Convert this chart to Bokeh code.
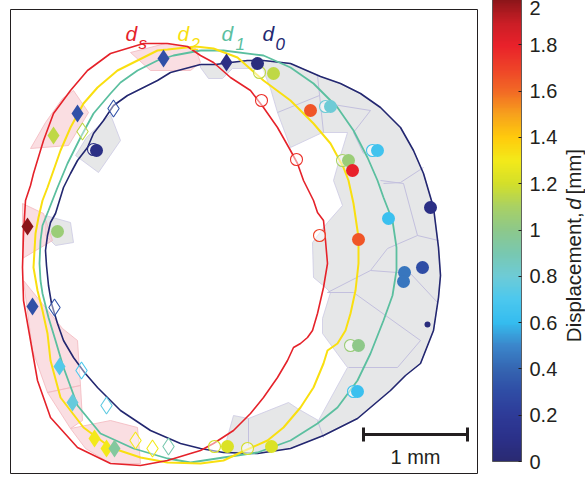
import numpy as np
from bokeh.plotting import figure
from bokeh.layouts import row
from bokeh.models import (ColumnDataSource, LinearColorMapper, ColorBar, FixedTicker,
                          CustomJSTickFormatter, Range1d, Label)
from bokeh.transform import transform
from bokeh.embed import file_html
from bokeh.resources import INLINE

# ---------------- data: coordinates read from the micrograph (image units, y measured downward; 104 units = 1 mm)
# contour d_s (red)
ds_x = [167,187,200,213,230,250,263,277,290,297,303,313,317,323,325,327,323,317,312,307,300,293,287,277,263,250,233,213,200,190,167,140,110,77,50,37,30,23,22,23,25,30,33,43,53,70,87,110,143,167]
ds_y = [43,46,55,62,77,90,107,127,150,163,180,200,212,220,240,263,287,313,330,337,343,347,360,377,397,413,430,443,450,453,460,465,463,447,417,380,340,300,267,233,200,185,173,140,113,90,70,53,43,43]
# contour d_2 (yellow)
d2_x = [195,167,157,137,117,97,83,70,60,53,47,42,38,35,33,37,42,47,50,60,83,110,140,167,200,223,240,267,283,300,313,323,327,337,345,350,355,358,358,353,348,343,330,313,290,263,237,213,195]
d2_y = [46,49,50,60,70,87,103,127,150,170,187,200,217,233,267,290,310,333,360,397,427,447,457,462,463,460,452,440,427,407,387,363,350,343,330,313,290,263,237,203,180,167,143,123,100,80,57,48,46]
# contour d_1 (teal)
d1_x = [200,173,157,137,120,110,93,80,67,57,48,42,40,39,40,42,48,55,63,77,100,133,167,190,223,257,290,317,337,357,370,383,392,396,396,392,383,377,367,353,337,313,290,263,223,200]
d1_y = [50,55,60,70,82,93,113,137,163,187,210,225,240,263,280,293,317,340,367,405,433,448,458,462,457,452,440,423,407,380,353,320,295,270,247,220,197,180,157,130,107,83,67,55,50,50]
# contour d_0 (navy)
d0_x = [200,185,170,157,143,127,113,103,93,87,77,70,63,59,55,50,47,45,46,48,51,57,63,73,84,97,120,150,180,200,223,257,290,323,357,390,405,420,433,438,440,438,433,428,423,413,400,380,360,340,320,290,263,247,230,215,200]
d0_y = [64,68,72,80,87,95,105,120,133,147,160,173,187,200,213,222,235,250,265,285,303,323,340,357,372,387,410,430,443,448,452,453,448,435,418,390,375,363,330,297,275,247,207,190,173,150,127,107,93,83,76,63,60,60,62,64,64]

# Voronoi cells (grey: right side, pink: left side)
grey_xs = [
    [200,215,230,247,263,290,320,340,360,380,400,413,423,428,433,438,440,438,433,420,405,390,357,323,290,257,223,
     226,233,248,288,297,318,347,322,322,330,325,313,312,327,342,333,340,347,322,290,277,270,262,232,222,208,200],
    [110,120,98,75,86],
    [45,70,73,55,45],
]
grey_ys = [
    [64,64,62,60,60,63,76,83,93,107,127,150,173,190,207,247,275,297,330,363,375,390,418,435,448,453,452,
     440,415,418,402,408,420,367,333,318,292,287,277,242,222,205,180,155,132,132,147,112,88,68,68,78,78,67],
    [114,140,172,155,137],
    [215,222,242,245,235],
]
pink_xs = [
    [130,165,195,200,190,150],
    [62,73,88,68,30,45],
    [22,43,52,22],
    [23,62,77,80,47,32],
    [47,80,82,70],
    [70,110,137,140,110,85],
]
pink_ys = [
    [52,43,48,62,70,70],
    [98,90,112,145,148,122],
    [203,213,240,258],
    [280,328,340,385,392,350],
    [392,385,420,428],
    [428,420,427,463,463,448],
]
# cell edges inside the grey region
edge_x0 = [317,277,320,370,353,383,400,380,403,417,417,387,370,370,410,327,353,348,397,317,248]
edge_y0 = [75,112,102,110,132,183,182,180,183,235,235,248,270,270,273,292,292,367,367,420,418]
edge_x1 = [323,319,370,353,363,400,423,403,417,438,387,370,327,410,437,353,420,397,420,323,248]
edge_y1 = [132,95,110,132,153,182,167,183,235,240,248,270,292,273,302,292,340,367,340,437,445]

# measurement points: value = displacement d [mm]
circ_x = [257,273,310,330,377,348,352,388,430,358,404,403,422,358,357,227,271,96,57]
circ_y = [63,73,110,106,150,160,170,218,207,239,272,281,267,345,391,446,446,150,231]
circ_d = [0.05,1.15,1.65,0.80,0.65,1.05,1.80,0.63,0.08,1.65,0.45,0.45,0.30,1.00,0.63,1.22,1.22,0.08,1.05]
ocirc_x = [259,261,296,319,325,372,342,350,353,214,247,93]
ocirc_y = [72,100,159,235,106,150,160,345,391,446,448,149]
ocirc_d = [1.15,1.75,1.75,1.70,0.80,0.65,1.10,1.05,0.65,1.20,1.20,0.08]
diam_x = [226,163,77,53,27,32,59,72,94,106,114]
diam_y = [62,58,113,135,226,306,366,402,438,448,448]
diam_d = [0.08,0.32,0.32,1.15,2.00,0.32,0.72,0.78,1.30,1.30,0.95]
odiam_x = [113,82,54,81,106,135,152,168]
odiam_y = [108,131,307,370,405,440,448,446]
odiam_d = [0.32,1.15,0.32,0.70,0.75,1.30,1.30,0.90]
dot_x = [427]
dot_y = [324]
dot_d = [0.05]

cb_ticks = [0, 0.2, 0.4, 0.6, 0.8, 1.0, 1.2, 1.4, 1.6, 1.8, 2.0]
d_min, d_max = 0, 2


def up(v):
    """image rows grow downward; plot upward"""
    if isinstance(v, (list, tuple)) and v and isinstance(v[0], (list, tuple)):
        return [up(w) for w in v]
    if isinstance(v, (list, tuple)):
        return [-a for a in v]
    return -v


# ---------------- styles
anchors = ["#2A2A72", "#2B318A", "#2E3B98", "#2F4DA5", "#3566B2", "#3B87CB", "#35BDEF",
           "#4CC8EE", "#6ECBD6", "#79C8B0", "#8DC88B", "#A9D164", "#D3DF2A", "#F3EA1A",
           "#FFCB0C", "#F7A21C", "#F26A25", "#EE4328", "#E9212A", "#C91E26", "#8A1519"]
rgb = np.array([[int(h[i:i + 2], 16) for i in (1, 3, 5)] for h in anchors], float)
apos = np.linspace(0, 1, len(anchors))
palette = ["#%02x%02x%02x" % tuple(int(round(np.interp(t, apos, rgb[:, k]))) for k in range(3))
           for t in np.linspace(0, 1, 256)]
mapper = LinearColorMapper(palette=palette, low=d_min, high=d_max)

RED, YEL, TEAL, NAVY = "#E5222A", "#F9DF10", "#5BBF9F", "#232770"
INK = "#231F20"
FONT = "Liberation Sans"

# ---------------- main panel
p = figure(width=479, height=484, x_range=Range1d(10, 477), y_range=Range1d(-473, -9),
           output_backend="svg", toolbar_location=None,
           x_axis_location=None, y_axis_location=None,
           min_border_left=10, min_border_right=2, min_border_top=9, min_border_bottom=11)
p.xgrid.visible = False
p.ygrid.visible = False
p.outline_line_color = INK
p.outline_line_width = 1
p.background_fill_color = "white"
p.border_fill_color = "white"

p.patches(grey_xs, up(grey_ys), fill_color="#E6E7E8", line_color="#CBC9E3", line_width=0.8)
p.patches(pink_xs, up(pink_ys), fill_color="#F8CDD2", fill_alpha=0.65, line_color="#F3B8BE", line_width=0.8)
p.segment(edge_x0, up(edge_y0), edge_x1, up(edge_y1), line_color="#C3C0DE", line_width=1)

p.line(d0_x, up(d0_y), line_color=NAVY, line_width=1.6)
p.line(d1_x, up(d1_y), line_color=TEAL, line_width=1.8)
p.line(d2_x, up(d2_y), line_color=YEL, line_width=2.0)
p.line(ds_x, up(ds_y), line_color=RED, line_width=1.6)

fc = transform("d", mapper)
src_oc = ColumnDataSource(dict(x=ocirc_x, y=up(ocirc_y), d=ocirc_d))
src_c = ColumnDataSource(dict(x=circ_x, y=up(circ_y), d=circ_d))
src_od = ColumnDataSource(dict(x=odiam_x, y=up(odiam_y), d=odiam_d))
src_dm = ColumnDataSource(dict(x=diam_x, y=up(diam_y), d=diam_d))
src_dot = ColumnDataSource(dict(x=dot_x, y=up(dot_y), d=dot_d))
p.scatter("x", "y", source=src_oc, marker="circle", size=12, fill_color="white", fill_alpha=0.5,
          line_color=fc, line_width=1.1)
p.scatter("x", "y", source=src_c, marker="circle", size=13, fill_color=fc, line_color=None)
p.scatter("x", "y", source=src_od, marker="diamond", size=17, fill_color="white", fill_alpha=0.4,
          line_color=fc, line_width=1.1)
p.scatter("x", "y", source=src_dm, marker="diamond", size=18, fill_color=fc, line_color=None)
p.scatter("x", "y", source=src_dot, marker="circle", size=6, fill_color=fc, line_color=None)

# scale bar (1 mm = 104 image units)
p.segment([363, 363, 467], up([434, 427, 427]), [467, 363, 467], up([434, 441, 441]),
          line_color=INK, line_width=3)
p.add_layout(Label(x=415, y=up(456), text="1 mm", text_align="center", text_baseline="alphabetic",
                   text_font=FONT, text_font_size="20px", text_color=INK))

# contour labels
for (xx, txt, sx, sub, col) in [(125, "d", 138, "s", RED), (177, "d", 190, "2", YEL),
                                 (221, "d", 235, "1", TEAL), (262, "d", 275, "0", NAVY)]:
    p.add_layout(Label(x=xx, y=up(33), text=txt, text_font=FONT, text_font_style="italic",
                       text_font_size="21px", text_color=col, text_baseline="alphabetic"))
    p.add_layout(Label(x=sx, y=up(43), text=sub, text_font=FONT, text_font_style="italic",
                       text_font_size="17px", text_color=col, text_baseline="alphabetic"))

# ---------------- colour-bar panel (page x 479..585)
q = figure(width=106, height=484, x_range=Range1d(479, 585), y_range=Range1d(-484, 0),
           output_backend="svg", toolbar_location=None,
           x_axis_location=None, y_axis_location=None,
           min_border_left=0, min_border_right=0, min_border_top=0, min_border_bottom=0)
q.xgrid.visible = False
q.ygrid.visible = False
q.outline_line_color = None
q.background_fill_color = "white"
q.border_fill_color = "white"

cb = ColorBar(color_mapper=mapper, location=(13, 12), width=29, height=463, padding=0, margin=0,
              ticker=FixedTicker(ticks=cb_ticks),
              formatter=CustomJSTickFormatter(code="return tick.toFixed(1).replace(/\\.0$/, '')"),
              major_label_text_font=FONT, major_label_text_font_size="20px",
              major_label_text_color=INK, label_standoff=8,
              major_tick_line_color=INK, major_tick_in=3, major_tick_out=0,
              minor_tick_line_color=None, bar_line_color="#444444", bar_line_width=0.8,
              border_line_color=None, background_fill_alpha=0)
q.add_layout(cb)

# colour bar title (rotated, reads bottom to top)
for (yy, txt, style) in [(347, "Displacement,", "normal"), (209, "d", "italic"), (193, "[mm]", "normal")]:
    q.add_layout(Label(x=573, y=up(yy), text=txt, angle=np.pi / 2, text_font=FONT, text_font_style=style,
                       text_font_size="20.5px", text_color=INK, text_baseline="alphabetic",
                       text_align="left"))

layout = row(p, q, spacing=0)
open("out.html", "w").write(file_html(layout, INLINE))
